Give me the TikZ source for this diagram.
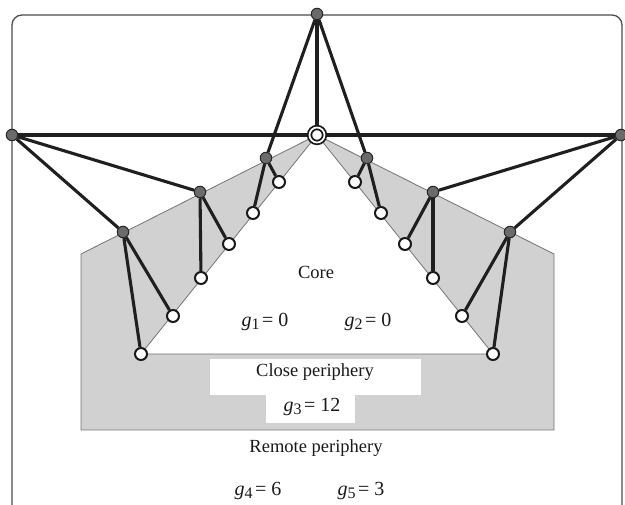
\documentclass[tikz,border=0pt]{standalone}
\usepackage{fontspec}
\setmainfont{Liberation Serif}
\pgfdeclarelayer{back}
\pgfdeclarelayer{mid}
\pgfsetlayers{back,mid,main}
\newcommand{\gs}[1]{\textit{g}\raisebox{-0.3ex}{\fontsize{16}{16}\selectfont #1}\hspace{2.5pt}}
\begin{document}
\begin{tikzpicture}[x=1pt,y=-1pt,
  gnode/.style={circle,fill=black!58,draw=black!85,line width=1pt,inner sep=0pt,minimum size=11.5pt},
  wnode/.style={circle,fill=white,draw=black!90,line width=2pt,inner sep=0pt,minimum size=12pt},
  hubnode/.style={circle,draw=black!90,line width=1.8pt,double=white,double distance=1.7pt,fill=white,inner sep=0pt,minimum size=15pt},
  edge/.style={line width=3.1pt,draw=black!88},
  region/.style={fill=black!18,draw=black!55,line width=0.8pt},
  lbl/.style={font=\fontsize{18.5}{20}\selectfont,inner sep=0pt,text=black!90},
  glbl/.style={font=\fontsize{20}{22}\selectfont,inner sep=0pt,text=black!90}
]
\useasboundingbox (0,0) rectangle (625,505);
% frame
\draw[black!70,line width=1.3pt,rounded corners=10pt] (12,510) -- (12,15) -- (622,15) -- (622,510);

% nodes
\node[gnode] (top) at (317,14) {};
\node[hubnode] (hub) at (317,135) {};
\node[gnode] (left) at (12,135) {};
\node[gnode] (right) at (621,135) {};
\node[gnode] (l1) at (266,158) {};
\node[gnode] (l2) at (200,192) {};
\node[gnode] (l3) at (123,232) {};
\node[gnode] (r1) at (367,158) {};
\node[gnode] (r2) at (433,192) {};
\node[gnode] (r3) at (510,232) {};
\node[wnode] (wl1) at (279,182) {};
\node[wnode] (wl2) at (253,213) {};
\node[wnode] (wl3) at (229,244) {};
\node[wnode] (wl4) at (201,278) {};
\node[wnode] (wl5) at (173,316) {};
\node[wnode] (wl6) at (141,354) {};
\node[wnode] (wr1) at (355,182) {};
\node[wnode] (wr2) at (381,213) {};
\node[wnode] (wr3) at (405,244) {};
\node[wnode] (wr4) at (433,278) {};
\node[wnode] (wr5) at (462,316) {};
\node[wnode] (wr6) at (493,354) {};

\begin{pgfonlayer}{back}
  \path[region] (hub.center) -- (81,254) -- (81,430) -- (554,430) -- (554,254) -- cycle;
  \path[fill=white,draw=black!55,line width=0.8pt] (hub.center) -- (wl6.center) -- (wr6.center) -- cycle;
  \fill[white] (210,359) rectangle (421,395);
  \fill[white] (266,394) rectangle (355,423);
\end{pgfonlayer}

\begin{pgfonlayer}{mid}
  \draw[edge] (left) -- (hub) -- (right);
  \draw[edge] (top) -- (hub);
  \draw[edge] (top) -- (l1);
  \draw[edge] (top) -- (r1);
  \draw[edge] (l1) -- (wl1);
  \draw[edge] (l1) -- (wl2);
  \draw[edge] (r1) -- (wr1);
  \draw[edge] (r1) -- (wr2);
  \draw[edge] (left) -- (l2);
  \draw[edge] (left) -- (l3);
  \draw[edge] (right) -- (r2);
  \draw[edge] (right) -- (r3);
  \draw[edge] (l2) -- (wl3);
  \draw[edge] (l2) -- (wl4);
  \draw[edge] (l3) -- (wl5);
  \draw[edge] (l3) -- (wl6);
  \draw[edge] (r2) -- (wr3);
  \draw[edge] (r2) -- (wr4);
  \draw[edge] (r3) -- (wr5);
  \draw[edge] (r3) -- (wr6);
\end{pgfonlayer}

% labels
\node[lbl] (core) at (316,272) {Core};
\node[glbl] (g1) at (265,322) {\gs{1}= 0};
\node[glbl] (g2) at (368,322) {\gs{2}= 0};
\node[lbl] (close) at (315,372) {Close periphery};
\node[glbl] (g3) at (312,407) {\gs{3}= 12};
\node[lbl] (remote) at (316,448) {Remote periphery};
\node[glbl] (g4) at (258,491) {\gs{4}= 6};
\node[glbl] (g5) at (361,491) {\gs{5}= 3};
\end{tikzpicture}
\end{document}
